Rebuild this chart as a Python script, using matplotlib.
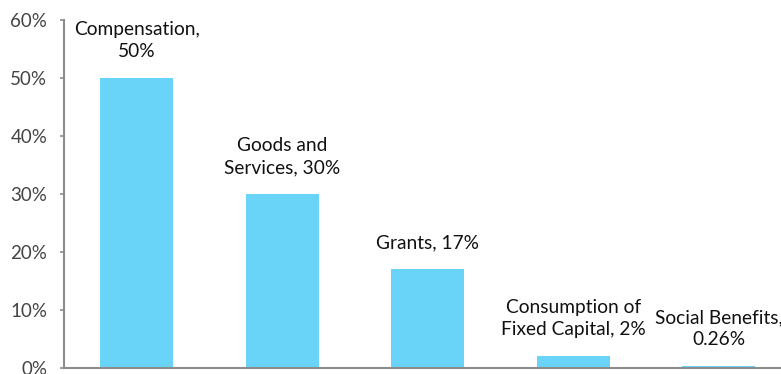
import matplotlib.pyplot as plt
from matplotlib.ticker import FuncFormatter

categories = ['Compensation', 'Goods and\nServices', 'Grants', 'Consumption of\nFixed Capital', 'Social Benefits']
shares = [50, 30, 17, 2, 0.26]
label_text = ['Compensation,\n50%', 'Goods and\nServices, 30%', 'Grants, 17%',
              'Consumption of\nFixed Capital, 2%', 'Social Benefits,\n0.26%']
yticks = [0, 10, 20, 30, 40, 50, 60]

plt.rcParams['font.family'] = ['Lato', 'DejaVu Sans']

fig = plt.figure(figsize=(7.81, 3.74), dpi=100)
# axes run past the right and bottom edges of the figure
ax = fig.add_axes([64 / 781, 6 / 374, 727.5 / 781, 348 / 374])

x = range(len(shares))
ax.bar(x, shares, width=0.5, color='#69d4f8')

for i, (v, t) in enumerate(zip(shares, label_text)):
    ax.annotate(t, (i, v), xytext=(0, 13), textcoords='offset points',
                ha='center', va='bottom', fontsize=13.8, color='#111111',
                linespacing=1.35)

ax.set_xlim(-0.5, 4.5)
ax.set_ylim(0, 60)
ax.set_yticks(yticks)
ax.yaxis.set_major_formatter(FuncFormatter(lambda v, p: '%d%%' % v))
ax.set_xticks([])

for s in ['top', 'right']:
    ax.spines[s].set_visible(False)
for s in ['left', 'bottom']:
    ax.spines[s].set_color('#8c8c8c')
    ax.spines[s].set_linewidth(1.5)
ax.tick_params(axis='y', length=3, width=1.2, color='#8c8c8c', pad=9,
               labelsize=13.5, labelcolor='#444444')

fig.savefig('out.png', dpi=100)
